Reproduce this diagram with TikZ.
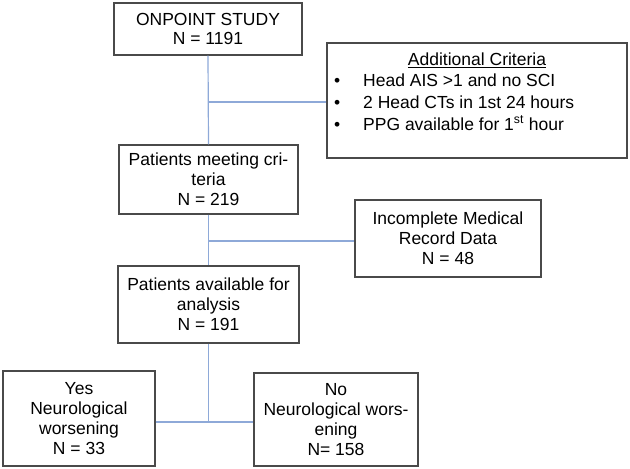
\documentclass[tikz,border=0pt]{standalone}
\usepackage{fontspec}
\setmainfont{Liberation Sans}
\definecolor{boxline}{HTML}{4A4A4A}
\definecolor{conn}{HTML}{8EA9D8}
\begin{document}
\begin{tikzpicture}[x=1pt,y=-1pt,
  box/.style={draw=boxline, line width=1.3pt, fill=white, inner sep=0pt, align=center,
    font=\fontsize{17.5}{20}\selectfont},
  link/.style={draw=conn, line width=1.2pt},
  crit/.style={inner sep=0pt, font=\fontsize{17.5}{21}\selectfont}]
\useasboundingbox (0,0) rectangle (630,469);
\node[box, minimum width=188pt, minimum height=52pt, font=\fontsize{17.5}{18.5}\selectfont] (A) at (208,29) {ONPOINT STUDY\\N = 1191};
\node[box, minimum width=300pt, minimum height=115pt] (B) at (477,100.5) {};
\node[crit] (Bt) at (477,60) {\underline{Additional Criteria}};
\node[crit, anchor=west] (B1) at (334,80) {\makebox[29pt][l]{\textbullet}Head AIS >1 and no SCI};
\node[crit, anchor=west] (B2) at (334,102) {\makebox[29pt][l]{\textbullet}2 Head CTs in 1st 24 hours};
\node[crit, anchor=west] (B3) at (334,123) {\makebox[29pt][l]{\textbullet}PPG available for 1\textsuperscript{st} hour};
\node[box, minimum width=179pt, minimum height=69pt] (C) at (208.5,179.5) {Patients meeting cri-\\teria\\N = 219};
\node[box, minimum width=186pt, minimum height=77pt] (D) at (448,238.5) {Incomplete Medical\\Record Data\\N = 48};
\node[box, minimum width=181pt, minimum height=77pt] (E) at (208.5,304.5) {Patients available for\\analysis\\N = 191};
\node[box, minimum width=152pt, minimum height=95pt] (F) at (79,418.5) {Yes\\Neurological\\worsening\\N = 33};
\node[box, minimum width=164pt, minimum height=93pt] (G) at (336,419.5) {No\\Neurological wors-\\ening\\N= 158};
\coordinate (j1) at (208.5,102);
\coordinate (j2) at (208.5,241);
\coordinate (j3) at (208.5,422);
\draw[link] (A.south) -- (C.north);
\draw[link] (j1) -- (j1 -| B.west);
\draw[link] (C.south) -- (E.north);
\draw[link] (j2) -- (j2 -| D.west);
\draw[link] (E.south) -- (j3);
\draw[link] (j3 -| F.east) -- (j3 -| G.west);
\end{tikzpicture}
\end{document}
